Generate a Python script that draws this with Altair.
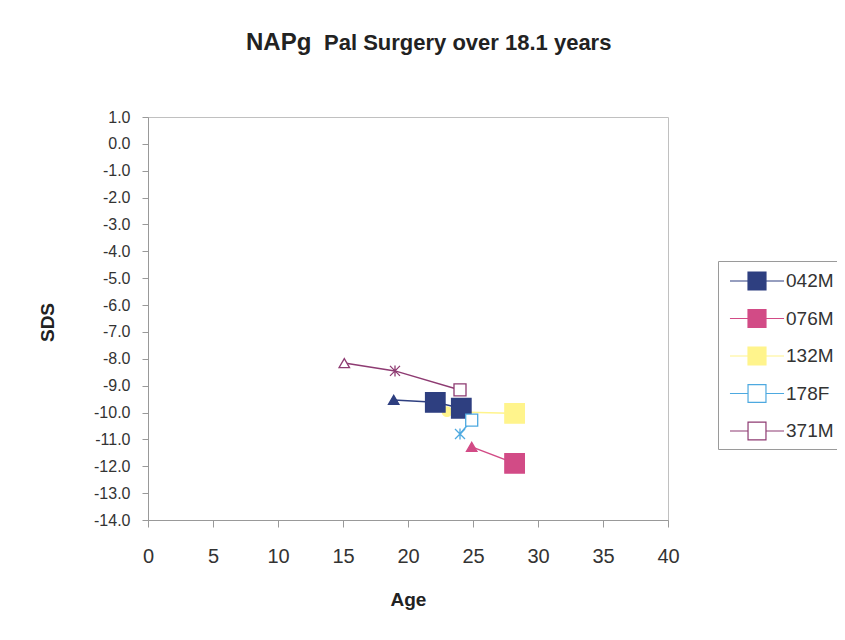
import altair as alt
import pandas as pd

# ---- data ----
series_names = ["042M", "076M", "132M", "178F", "371M"]
series_colors = ["#2E3F80", "#D24B86", "#FFF48C", "#4DA9E0", "#8E3B72"]
series_fills = ["#2E3F80", "#D24B86", "#FFF48C", "#FFFFFF", "#FFFFFF"]

# rows ordered for drawing (later rows on top)
point_series = ["132M", "132M", "042M", "042M", "042M", "178F", "178F",
                "076M", "076M", "371M", "371M", "371M"]
point_age = [23.0, 28.2, 18.9, 22.1, 24.1, 24.0, 24.9,
             24.9, 28.2, 15.1, 19.0, 24.0]
point_sds = [-9.97, -10.03, -9.53, -9.62, -9.84, -10.80, -10.28,
             -11.28, -11.89, -8.16, -8.45, -9.16]
point_marker = ["circle", "square", "triangle", "square", "square", "asterisk", "small square",
                "triangle", "square", "triangle", "asterisk", "small square"]

y_ticks = [1.0, 0.0, -1.0, -2.0, -3.0, -4.0, -5.0, -6.0, -7.0, -8.0, -9.0,
           -10.0, -11.0, -12.0, -13.0, -14.0]
x_ticks = [0, 5, 10, 15, 20, 25, 30, 35, 40]

title_main = "NAPg"
title_rest = "Pal Surgery over 18.1 years"

df = pd.DataFrame({"series": point_series, "age": point_age,
                   "sds": point_sds, "marker": point_marker})

FONT = "Liberation Sans"
ASTERISK = "M-1,-1L1,1M-1,1L1,-1M0,-1.1L0,1.1"
LEGEND_SYMBOL = "M-2.08,0H-0.69M0.69,0H2.08M-0.69,-0.69H0.69V0.69H-0.69Z"

marker_domain = ["triangle", "square", "circle", "asterisk", "small square"]
marker_shapes = ["triangle-up", "square", "circle", ASTERISK, "square"]
marker_sizes = [110, 380, 90, 100, 144]

x_enc = alt.X("age:Q", title="Age",
              scale=alt.Scale(domain=[0, 40], nice=False, zero=False),
              axis=alt.Axis(values=x_ticks, format="d", grid=False,
                            labelFontSize=20, labelPadding=19, tickSize=7,
                            labelFlush=False, labelOverlap=False,
                            titleFontSize=19, titlePadding=24))
y_enc = alt.Y("sds:Q", title="SDS",
              scale=alt.Scale(domain=[-14, 1], nice=False, zero=False),
              axis=alt.Axis(values=y_ticks, grid=False, tickCount=16,
                            labelExpr="replace(format(datum.value, '.1f'), '\u2212', '-')",
                            labelFontSize=16, labelPadding=12, tickSize=6,
                            labelFlush=False, labelOverlap=False,
                            titleFontSize=19, titleX=-101, titleY=205,
                            titleBaseline="middle", titleAlign="center"))

stroke_scale = alt.Scale(domain=series_names, range=series_colors)
fill_scale = alt.Scale(domain=series_names, range=series_fills)

legend = alt.Legend(title=None, orient="none", legendX=570, legendY=144,
                    symbolType=LEGEND_SYMBOL, symbolSize=676,
                    symbolStrokeWidth=1.2, symbolOffset=19,
                    labelFontSize=19, labelFont=FONT, labelColor="#333333",
                    labelOffset=15, rowPadding=11.5, padding=6,
                    strokeColor="#9a9a9a", fillColor="#ffffff")

lines = alt.Chart(df).mark_line(strokeWidth=1.5).encode(
    x=x_enc, y=y_enc,
    stroke=alt.Stroke("series:N", scale=stroke_scale, legend=legend),
    order=alt.Order("age:Q"),
)

points = alt.Chart(df).mark_point(filled=True, opacity=1, strokeWidth=1.3).encode(
    x=x_enc, y=y_enc,
    stroke=alt.Stroke("series:N", scale=stroke_scale, legend=legend),
    fill=alt.Fill("series:N", scale=fill_scale, legend=legend),
    shape=alt.Shape("marker:N", scale=alt.Scale(domain=marker_domain, range=marker_shapes), legend=None),
    size=alt.Size("marker:N", scale=alt.Scale(type="ordinal", domain=marker_domain, range=marker_sizes), legend=None),
)

t1 = alt.Chart(pd.DataFrame({"t": [title_main]})).mark_text(
    font=FONT, fontSize=24, fontWeight="bold", color="#222222",
    align="left", baseline="alphabetic", clip=False,
).encode(x=alt.value(98), y=alt.value(-67), text="t:N")

t2 = alt.Chart(pd.DataFrame({"t": [title_rest]})).mark_text(
    font=FONT, fontSize=22, fontWeight="bold", color="#222222",
    align="left", baseline="alphabetic", clip=False,
).encode(x=alt.value(176), y=alt.value(-67), text="t:N")

chart = alt.layer(lines, points, t1, t2).properties(
    width=520, height=403,
    autosize=alt.AutoSizeParams(type="none"),
    padding={"left": 140, "top": 109, "right": 169, "bottom": 90},
    background="#ffffff",
).configure_view(
    stroke="#c0c0c0", strokeWidth=1
).configure_axis(
    labelFont=FONT, titleFont=FONT, labelColor="#333333", titleColor="#222222",
    domainColor="#999999", tickColor="#999999", titleFontWeight="bold",
)

chart.save("out.html", embed_options={"renderer": "svg", "actions": False})
